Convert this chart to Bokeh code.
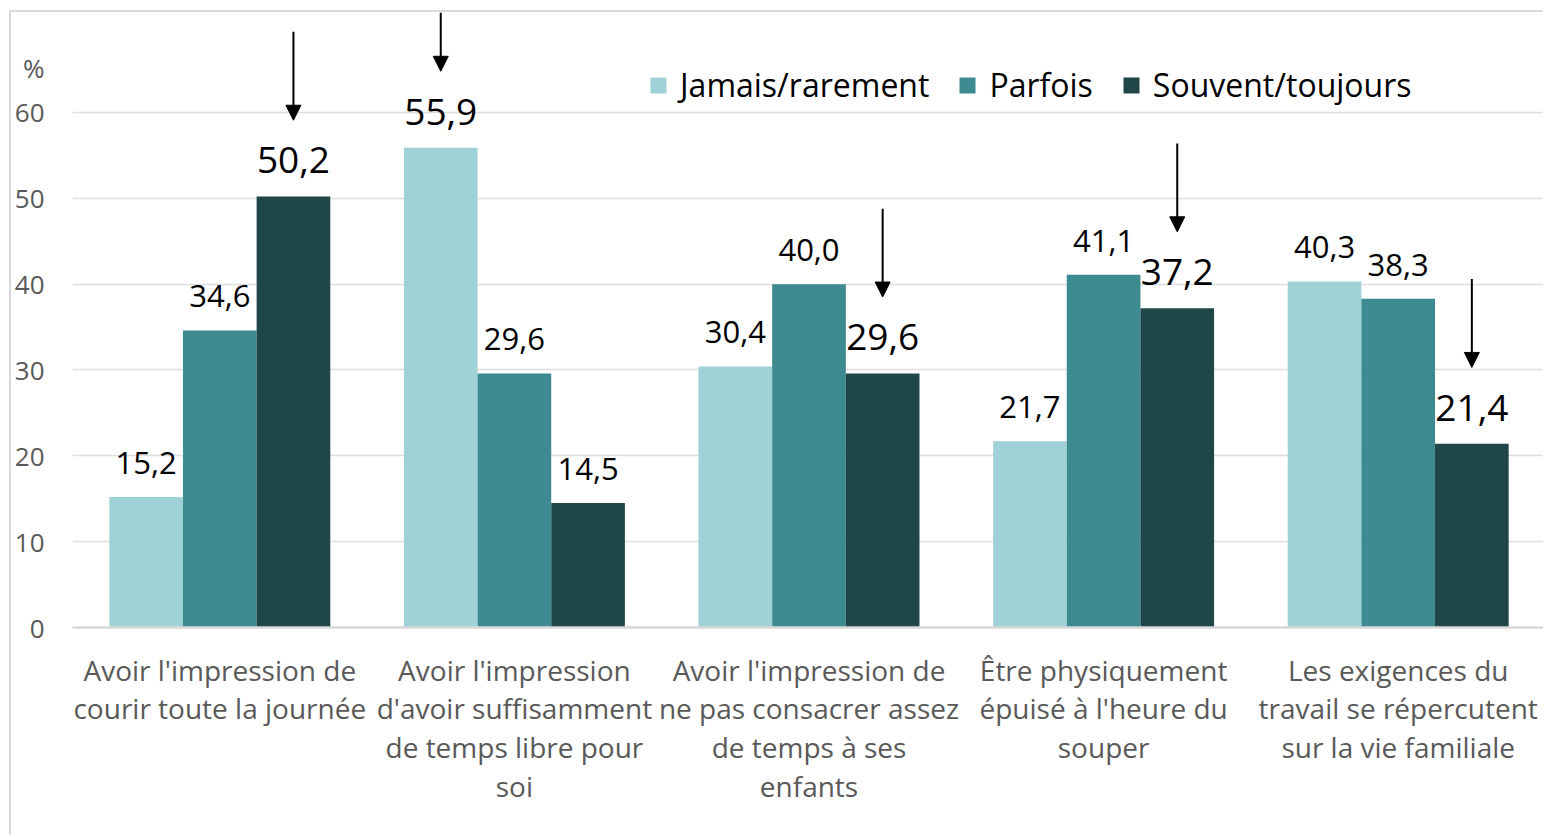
from bokeh.plotting import figure
from bokeh.models import (ColumnDataSource, FactorRange, Range1d, FixedTicker, Legend, LegendItem,
                          Arrow, NormalHead)
from bokeh.transform import dodge
from bokeh.core.properties import value
from bokeh.embed import file_html
from bokeh.resources import INLINE

# ---------------- data ----------------
categories = [
    "Avoir l'impression de\ncourir toute la journée",
    "Avoir l'impression\nd'avoir suffisamment\nde temps libre pour\nsoi",
    "Avoir l'impression de\nne pas consacrer assez\nde temps à ses\nenfants",
    "Être physiquement\népuisé à l'heure du\nsouper",
    "Les exigences du\ntravail se répercutent\nsur la vie familiale",
]
series_names = ["Jamais/rarement", "Parfois", "Souvent/toujours"]
jamais = [15.2, 55.9, 30.4, 21.7, 40.3]
parfois = [34.6, 29.6, 40.0, 41.1, 38.3]
souvent = [50.2, 14.5, 29.6, 37.2, 21.4]
highlight = [2, 0, 2, 2, 2]          # series index pointed at by an arrow, per category
y_ticks = [0, 10, 20, 30, 40, 50, 60]
y_unit = "%"

# ---------------- styles ----------------
FONT = "Open Sans"
colors = ["#9fd2d6", "#3d8a90", "#1f4648"]
offsets = [-0.25, 0.0, 0.25]
BAR_W = 0.25
ARROW_GAP = 8.9
ARROW_LEN = 10.3
Y_MAX = 71.65
LABEL_PAD = 1.65      # gap between bar top and value label, in axis units
UNIT_POS = 65.2       # vertical position of the "%" unit marker on the y axis

series_values = [jamais, parfois, souvent]

p = figure(
    x_range=FactorRange(factors=categories, range_padding=0.0),
    y_range=Range1d(0, Y_MAX),
    width=1534, height=825,
    output_backend="svg", toolbar_location=None,
    min_border_left=60, min_border_right=0, min_border_top=0, min_border_bottom=210,
)
p.styles = {"border-top": "2px solid #d9d9d9", "border-left": "2px solid #d9d9d9",
            "margin-left": "9px", "margin-top": "10px"}
p.outline_line_color = None
p.background_fill_color = "white"
p.border_fill_color = "white"

legend_items = []
for s, (name, vals) in enumerate(zip(series_names, series_values)):
    src = ColumnDataSource(dict(cat=categories, val=vals))
    r = p.vbar(x=dodge("cat", offsets[s], range=p.x_range), top="val", width=BAR_W,
               source=src, fill_color=colors[s], line_color=None)
    legend_items.append(LegendItem(label=name, renderers=[r]))

    # value labels: normal and highlighted (bigger) ones
    for big, fs, yo in ((False, "31px", -20), (True, "37px", -22)):
        idx = [i for i in range(len(vals)) if (highlight[i] == s) == big]
        if not idx:
            continue
        lsrc = ColumnDataSource(dict(
            cat=[categories[i] for i in idx],
            val=[vals[i] + LABEL_PAD for i in idx],
            lab=[f"{vals[i]:.1f}".replace(".", ",") for i in idx],
        ))
        p.text(x=dodge("cat", offsets[s], range=p.x_range), y="val", text="lab", source=lsrc,
               text_font=value(FONT), text_font_size=fs, y_offset=yo,
               text_align="center", text_baseline="alphabetic", text_color="black")

    # arrows for highlighted bars of this series
    idx = [i for i in range(len(vals)) if highlight[i] == s]
    if idx:
        asrc = ColumnDataSource(dict(
            cat=[categories[i] for i in idx],
            y0=[min(vals[i] + ARROW_GAP + ARROW_LEN, Y_MAX) for i in idx],
            y1=[vals[i] + ARROW_GAP for i in idx],
        ))
        p.add_layout(Arrow(
            x_start=dodge("cat", offsets[s], range=p.x_range), y_start="y0",
            x_end=dodge("cat", offsets[s], range=p.x_range), y_end="y1",
            source=asrc, line_color="black", line_width=2,
            end=NormalHead(size=15, fill_color="black", line_color="black"),
        ))

legend = Legend(items=legend_items, orientation="horizontal", location=(576, 521),
                glyph_width=20, glyph_height=20, label_standoff=12, spacing=28,
                padding=0, margin=0, border_line_alpha=0, background_fill_alpha=0,
                label_text_font=FONT, label_text_font_size="32px", label_text_color="black")
p.add_layout(legend, "center")

# axes
p.yaxis.ticker = FixedTicker(ticks=y_ticks + [UNIT_POS])
p.yaxis.major_label_overrides = {UNIT_POS: y_unit}
p.yaxis.axis_line_color = None
p.yaxis.major_tick_line_color = None
p.yaxis.minor_tick_line_color = None
p.yaxis.major_label_text_font = FONT
p.yaxis.major_label_text_font_size = "26px"
p.yaxis.major_label_text_color = "#595959"
p.yaxis.major_label_standoff = 22

p.xaxis.axis_line_color = "#d9d9d9"
p.xaxis.axis_line_width = 2.5
p.xaxis.major_tick_line_color = None
p.xaxis.minor_tick_line_color = None
p.xaxis.major_label_text_font = FONT
p.xaxis.major_label_text_font_size = "28px"
p.xaxis.major_label_text_color = "#595959"
p.xaxis.major_label_text_line_height = 1.02
p.xaxis.major_label_standoff = 17
p.xaxis.major_label_orientation = "horizontal"

p.xgrid.grid_line_color = None
p.ygrid.ticker = FixedTicker(ticks=y_ticks)
p.ygrid.grid_line_color = "#dedede"
p.ygrid.grid_line_width = 1.5

open("out.html", "w").write(file_html(p, INLINE))
